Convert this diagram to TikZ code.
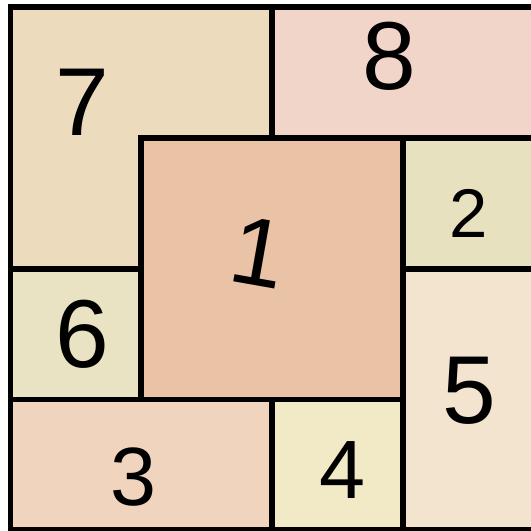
\documentclass[tikz,border=0pt]{standalone}
\usepackage{fontspec}
\setmainfont{Liberation Sans}

\definecolor{tileone}{HTML}{EAC3A7}
\definecolor{tiletwo}{HTML}{E8E1C0}
\definecolor{tilethree}{HTML}{F1D4BE}
\definecolor{tilefour}{HTML}{F2E9C7}
\definecolor{tilefive}{HTML}{F2E4CF}
\definecolor{tilesix}{HTML}{E9E3C3}
\definecolor{tileseven}{HTML}{EDDBBE}
\definecolor{tileeight}{HTML}{F1D5C9}

\begin{document}
\begin{tikzpicture}[
    x=2cm, y=-2cm,
    tile/.style={draw=black, line width=2.5pt, line join=miter},
    digit/.style={inner sep=0pt, font=\fontsize{42}{42}\selectfont},
    small/.style={inner sep=0pt, font=\fontsize{30}{30}\selectfont}
]
\useasboundingbox (-0.080,-0.054) rectangle (3.979,4.006);

% Tiles
\draw[tile, fill=tileseven] (0,0) -- (2,0) -- (2,1) -- (1,1) -- (1,2) -- (0,2) -- cycle;
\draw[tile, fill=tileeight] (2,0) rectangle (4,1);
\draw[tile, fill=tiletwo] (3,1) rectangle (4,2);
\draw[tile, fill=tilefive] (3,2) rectangle (4,4);
\draw[tile, fill=tilefour] (2,3) rectangle (3,4);
\draw[tile, fill=tilethree] (0,3) rectangle (2,4);
\draw[tile, fill=tilesix] (0,2) rectangle (1,3);
\draw[tile, fill=tileone] (1,1) rectangle (3,3);

% Numbers
\node[digit] (N7) at (0.55, 0.73) {7};
\node[digit] (N8) at (2.90, 0.38) {8};
\node[digit, rotate=-10] (N1) at (1.90, 1.88) {1};
\node[small] (N2) at (3.50, 1.58) {2};
\node[digit] (N6) at (0.55, 2.50) {6};
\node[digit] (N5) at (3.51, 2.93) {5};
\node[small, font=\fontsize{36}{36}\selectfont] (N3) at (0.94, 3.59) {3};
\node[small, font=\fontsize{36}{36}\selectfont] (N4) at (2.54, 3.54) {4};

\end{tikzpicture}
\end{document}
